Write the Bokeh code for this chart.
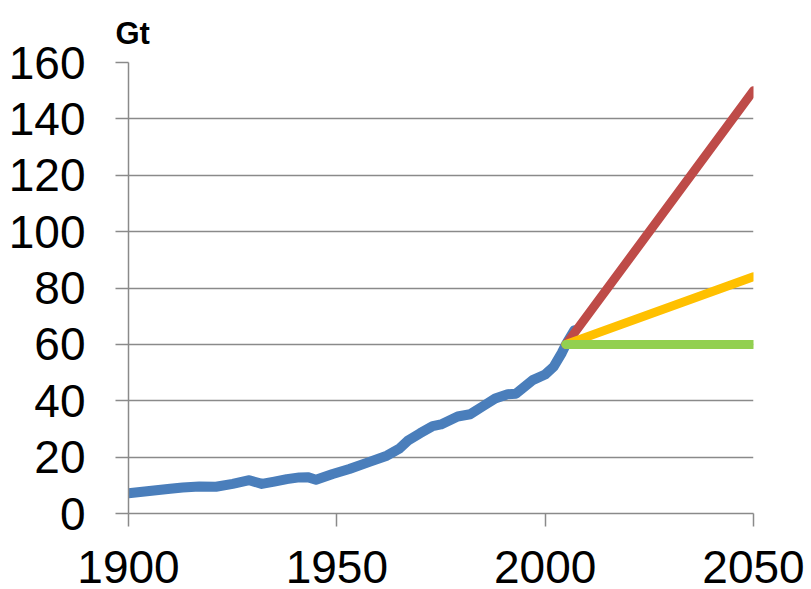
from bokeh.plotting import figure
from bokeh.models import Range1d, FixedTicker
from bokeh.embed import file_html
from bokeh.resources import INLINE

# Historical series (Gt)
hist_years = [1900, 1905, 1910, 1913, 1917, 1921, 1925, 1929, 1932, 1935, 1938, 1941,
              1943, 1945, 1949, 1953, 1958, 1962, 1965, 1967, 1970, 1973, 1975, 1979,
              1982, 1985, 1988, 1991, 1993, 1997, 2000, 2002, 2004, 2005, 2007]
hist_values = [7.2, 8.0, 8.8, 9.2, 9.6, 9.5, 10.5, 11.8, 10.5, 11.3, 12.2, 12.8,
               12.9, 12.0, 14.0, 15.8, 18.4, 20.5, 23.0, 25.8, 28.5, 31.0, 31.6, 34.4,
               35.2, 38.0, 40.8, 42.3, 42.5, 47.3, 49.3, 52.0, 57.0, 60.0, 65.0]

# Scenarios
scen_years = [2005, 2050]
scen_high = [60, 150]
scen_mid = [60, 84]
scen_flat = [60, 60]

x_ticks = [1900, 1950, 2000, 2050]
y_ticks = [0, 20, 40, 60, 80, 100, 120, 140, 160]
unit_label = "Gt"

p = figure(frame_width=625, frame_height=451, output_backend="svg", toolbar_location=None,
           x_range=Range1d(1900, 2050), y_range=Range1d(0, 160),
           min_border_left=128, min_border_top=62, min_border_right=54, min_border_bottom=76,
           title=unit_label)
p.outline_line_color = None
p.background_fill_color = "white"
p.border_fill_color = "white"

p.title.text_font = "Liberation Sans"
p.title.text_font_style = "bold"
p.title.text_font_size = "31px"
p.title.text_color = "black"
p.title.align = "left"
p.title.offset = -13
p.title.standoff = 23

grid_col = "#8a8a8a"
p.xgrid.grid_line_color = None
p.ygrid.grid_line_color = grid_col
p.ygrid.grid_line_width = 1.5

for ax in (p.xaxis[0], p.yaxis[0]):
    ax.axis_line_color = grid_col
    ax.axis_line_width = 1.5
    ax.major_tick_line_color = grid_col
    ax.major_tick_line_width = 1.5
    ax.major_tick_in = 0
    ax.major_tick_out = 13
    ax.minor_tick_line_color = None
    ax.major_label_text_font = "Liberation Sans"
    ax.major_label_text_font_size = "46px"
    ax.major_label_text_color = "black"

p.xaxis.ticker = FixedTicker(ticks=x_ticks)
p.yaxis.ticker = FixedTicker(ticks=y_ticks)
p.ygrid.ticker = FixedTicker(ticks=y_ticks)
p.yaxis.major_label_standoff = 30
p.xaxis.major_label_standoff = 24

p.line(hist_years, hist_values, line_color="#4A7EBB", line_width=10, line_cap="round", line_join="round")
p.line(scen_years, scen_high, line_color="#BE4B48", line_width=9, line_cap="round")
p.line(scen_years, scen_mid, line_color="#FFC000", line_width=9, line_cap="round")
p.line(scen_years, scen_flat, line_color="#92D050", line_width=9, line_cap="round")

open("out.html", "w").write(file_html(p, INLINE))
